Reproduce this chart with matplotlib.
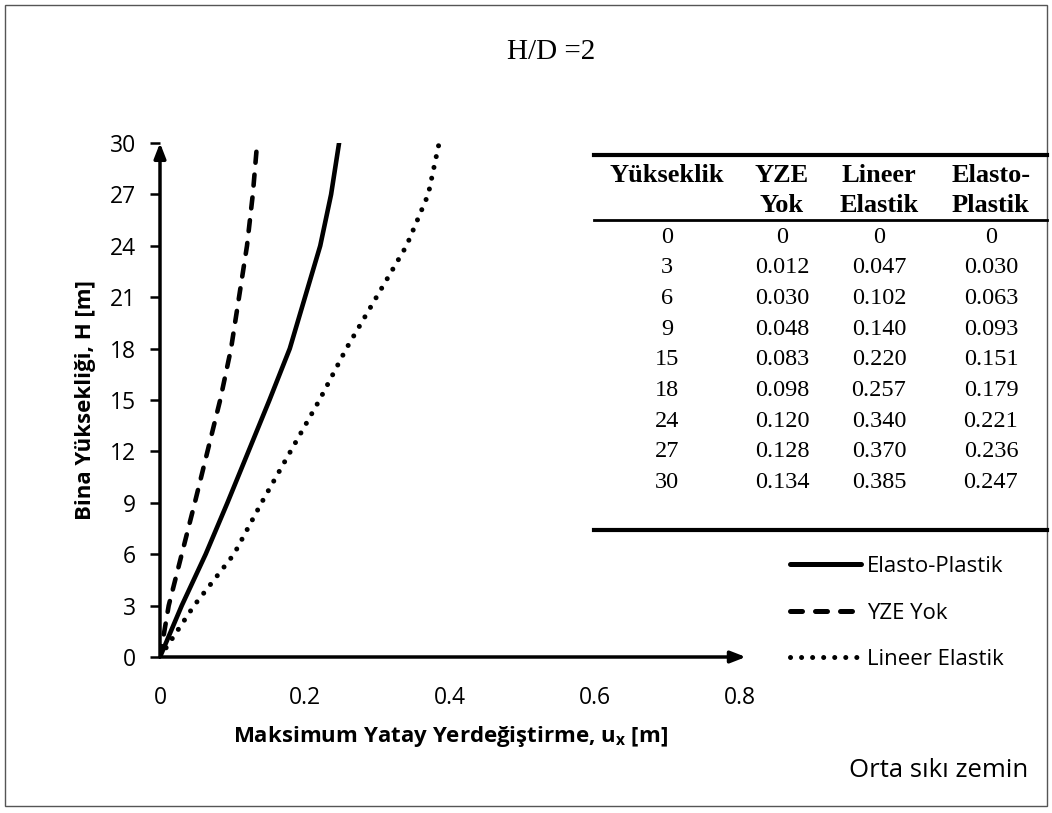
import matplotlib
matplotlib.use("Agg")
import matplotlib.pyplot as plt
from matplotlib.lines import Line2D
from matplotlib.patches import Rectangle

# data (from the table in the chart)
heights = [0, 3, 6, 9, 15, 18, 24, 27, 30]
yze_yok = [0, 0.012, 0.030, 0.048, 0.083, 0.098, 0.120, 0.128, 0.134]
lineer_elastik = [0, 0.047, 0.102, 0.140, 0.220, 0.257, 0.340, 0.370, 0.385]
elasto_plastik = [0, 0.030, 0.063, 0.093, 0.151, 0.179, 0.221, 0.236, 0.247]

x_ticks = [0, 0.2, 0.4, 0.6, 0.8]
x_ticklabels = ["0", "0.2", "0.4", "0.6", "0.8"]
y_ticks = list(range(0, 31, 3))

headers1 = ["Yükseklik", "YZE", "Lineer", "Elasto-"]
headers2 = ["", "Yok", "Elastik", "Plastik"]

sans = "Open Sans"
serif = "Liberation Serif"
plt.rcParams["font.family"] = sans
plt.rcParams["mathtext.default"] = "regular"

fig = plt.figure(figsize=(10.52, 8.13), dpi=100)
W, H = 1052, 813

def fx(px):
    return px / W

def fy(py):
    return 1 - py / H

# outer border
fig.patches.append(Rectangle((fx(5), fy(806)), fx(1047) - fx(5), fy(5) - fy(806),
                             transform=fig.transFigure, fill=False, edgecolor="#555555", linewidth=1.0))

ax = fig.add_axes([fx(160), fy(657), fx(740) - fx(160), fy(143) - fy(657)])
ax.set_xlim(0, 0.8)
ax.set_ylim(0, 30)

dash = (0, (2.4, 2.6))
dots = (0, (0.01, 2.2))
ax.plot(elasto_plastik, heights, color="black", linewidth=3.3, solid_capstyle="round")
ax.plot(yze_yok, heights, color="black", linewidth=3.3, linestyle=dash, dash_capstyle="round")
ax.plot(lineer_elastik, heights, color="black", linewidth=3.6, linestyle=dots, dash_capstyle="round")

for s in ax.spines.values():
    s.set_visible(False)
ax.annotate("", xy=(1.01, 0), xytext=(0, 0), xycoords="axes fraction",
            arrowprops=dict(arrowstyle="-|>,head_length=0.9,head_width=0.35", color="black", lw=2.5, shrinkA=0, shrinkB=0))
ax.annotate("", xy=(0, 1.0), xytext=(0, 0), xycoords="axes fraction",
            arrowprops=dict(arrowstyle="-|>,head_length=0.9,head_width=0.35", color="black", lw=2.5, shrinkA=0, shrinkB=0))

ax.set_xticks(x_ticks)
ax.set_xticklabels(x_ticklabels)
ax.set_yticks(y_ticks)
ax.tick_params(axis="x", length=0, pad=21, labelsize=16.5)
ax.tick_params(axis="y", length=7.5, width=1.8, direction="out", pad=10, labelsize=16.5)
ax.patch.set_visible(False)

ax.set_xlabel("Maksimum Yatay Yerdeğiştirme, u$_{x}$ [m]", fontsize=16, fontweight="bold", labelpad=10)
ax.set_ylabel("Bina Yüksekliği, H [m]", fontsize=16, fontweight="bold", labelpad=10)

fig.text(fx(551), fy(52), "H/D =2", family=serif, fontsize=21, ha="center", va="center")
fig.text(fx(1028), fy(770), "Orta sıkı zemin", fontsize=18.5, ha="right", va="center")

# table
col_x = [667, 782, 879, 991]
for cx, h1, h2 in zip(col_x, headers1, headers2):
    fig.text(fx(cx), fy(175), h1, family=serif, fontsize=19, fontweight="bold", ha="center", va="center")
    if h2:
        fig.text(fx(cx), fy(205), h2, family=serif, fontsize=19, fontweight="bold", ha="center", va="center")

row_y0, row_dy = 237, 30.7
for i, hv in enumerate(heights):
    yy = fy(row_y0 + i * row_dy)
    vals = [str(hv)] + [("0" if v == 0 else f"{v:.3f}") for v in (yze_yok[i], lineer_elastik[i], elasto_plastik[i])]
    for cx, t in zip(col_x, vals):
        fig.text(fx(cx), yy, t, family=serif, fontsize=17.5, ha="center", va="center")

for py, lw in [(155, 3.0), (220, 2.0), (530, 3.0)]:
    fig.add_artist(Line2D([fx(594), fx(1047)], [fy(py), fy(py)], transform=fig.transFigure, color="black", linewidth=lw))

# legend
handles = [
    Line2D([], [], color="black", linewidth=3.6, solid_capstyle="round"),
    Line2D([], [], color="black", linewidth=3.6, linestyle=dash, dash_capstyle="round"),
    Line2D([], [], color="black", linewidth=3.6, linestyle=dots, dash_capstyle="round"),
]
labels = ["Elasto-Plastik", "YZE Yok", "Lineer Elastik"]
fig.legend(handles, labels, loc="upper left", bbox_to_anchor=(fx(790), fy(556)), frameon=False,
           fontsize=16, handlelength=3.2, handletextpad=0.25, labelspacing=1.15, borderaxespad=0, borderpad=0)

fig.savefig("out.png", dpi=100)
